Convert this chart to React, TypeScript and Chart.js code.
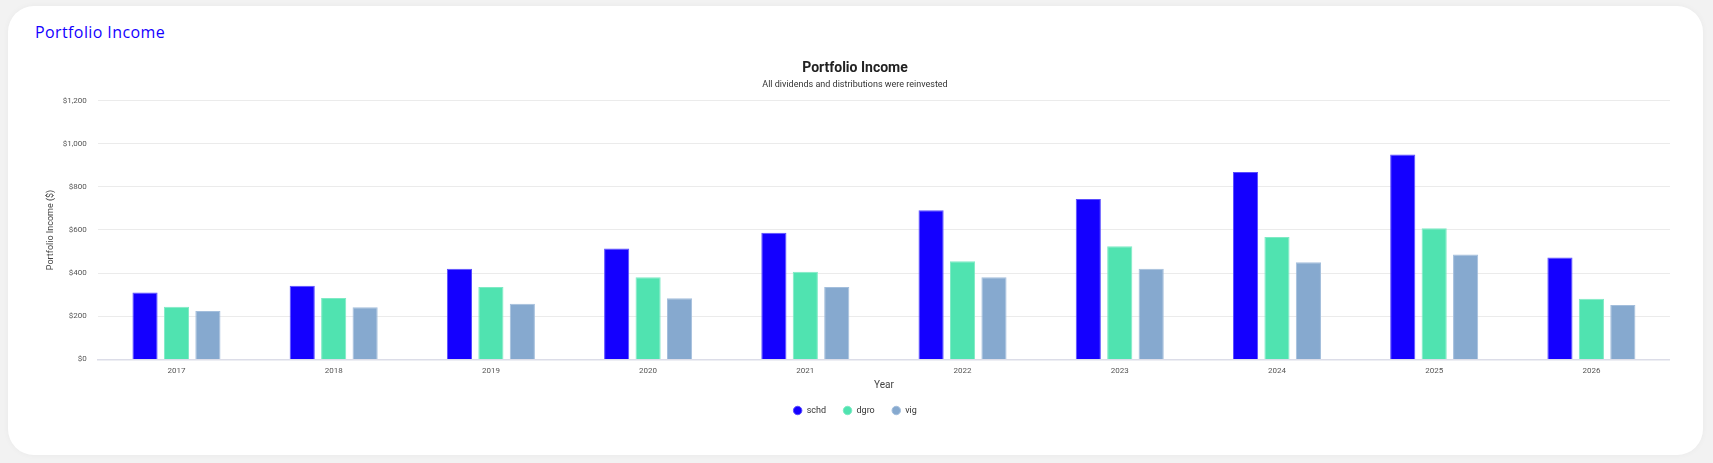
import React, { useEffect, useRef } from "react";
import { Chart, registerables } from "chart.js";

Chart.register(...registerables);

const years = ["2017", "2018", "2019", "2020", "2021", "2022", "2023", "2024", "2025", "2026"];
const schd = [310, 341, 420, 514, 587, 692, 744, 869, 950, 473];
const dgro = [244, 285, 336, 381, 406, 455, 525, 567, 608, 281];
const vig = [224, 242, 258, 284, 336, 381, 420, 451, 486, 252];
const seriesNames = ["schd", "dgro", "vig"];
const seriesColors = ["#1400ff", "#50e3b0", "#86a9cf"];
const seriesBorders = ["#5a4dff", "#7eeac4", "#a3bedc"];

export default function App() {
  const ref = useRef<HTMLCanvasElement>(null);
  useEffect(() => {
    if (!ref.current) return;
    const data = [schd, dgro, vig];
    const chart = new Chart(ref.current, {
      type: "bar",
      data: {
        labels: years,
        datasets: seriesNames.map((n, i) => ({
          label: n,
          data: data[i],
          backgroundColor: seriesColors[i],
          borderColor: seriesBorders[i],
          borderWidth: 1,
          categoryPercentage: 0.6,
          barPercentage: 0.8,
        })),
      },
      options: {
        animation: false,
        responsive: false,
        maintainAspectRatio: false,
        layout: { padding: 0 },
        font: { family: "Roboto" },
        plugins: {
          title: {
            display: true,
            text: "Portfolio Income",
            color: "#222",
            font: { family: "Roboto", size: 14, weight: "bold" },
            padding: { top: 0, bottom: 3 },
          },
          subtitle: {
            display: true,
            text: "All dividends and distributions were reinvested",
            color: "#333",
            font: { family: "Roboto", size: 9 },
            padding: { top: 0, bottom: 10 },
          },
          legend: {
            position: "bottom",
            labels: {
              usePointStyle: true,
              pointStyle: "circle",
              boxWidth: 9,
              boxHeight: 6,
              color: "#333",
              font: { family: "Roboto", size: 9 },
              padding: 17,
            },
          },
          tooltip: { enabled: false },
        },
        scales: {
          x: {
            grid: { display: false, drawTicks: false },
            border: { display: true, color: "#dcdde8", width: 1.5 },
            ticks: { color: "#555", font: { family: "Roboto", size: 8 }, padding: 7 },
            title: {
              display: true,
              text: "Year",
              color: "#444",
              font: { family: "Roboto", size: 10 },
              padding: { top: -4, bottom: -2 },
            },
          },
          y: {
            min: 0,
            max: 1200,
            grid: { color: "#ebebeb", drawTicks: false },
            border: { display: false },
            ticks: {
              stepSize: 200,
              color: "#555",
              font: { family: "Roboto", size: 8 },
              padding: 11,
              callback: (v: any) => "$" + Number(v).toLocaleString("en-US"),
            },
            title: {
              display: true,
              text: "Portfolio Income ($)",
              color: "#444",
              font: { family: "Roboto", size: 9 },
              padding: { top: 5, bottom: -4 },
            },
          },
        },
      },
    });
    return () => chart.destroy();
  }, []);

  return (
    <div style={{ position: "fixed", inset: 0, background: "#f2f2f2" }}>
      <div
        style={{
          position: "absolute",
          left: 8,
          top: 6,
          width: 1695,
          height: 449,
          background: "#ffffff",
          borderRadius: 26,
          boxShadow: "0 0 6px rgba(0,0,0,0.04)",
        }}
      />
      <div
        style={{
          position: "absolute",
          left: 35,
          top: 21,
          fontFamily: "'Open Sans', sans-serif",
          fontSize: 16,
          fontWeight: 500,
          color: "#1500ff",
          letterSpacing: 0.4,
        }}
      >
        Portfolio Income
      </div>
      <canvas
        ref={ref}
        width={1630}
        height={365}
        style={{ position: "absolute", left: 40, top: 60, width: 1630, height: 365 }}
      />
    </div>
  );
}
